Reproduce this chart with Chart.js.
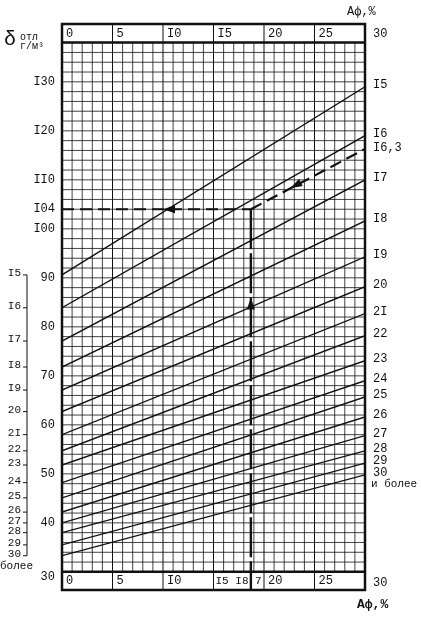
<!DOCTYPE html>
<html><head><meta charset="utf-8">
<script src="https://cdn.jsdelivr.net/npm/chart.js@4/dist/chart.umd.min.js"></script>
<style>body{margin:0;background:#fff}#wrap{width:421px;height:618px}</style>
</head><body><div id="wrap"><canvas id="c"></canvas></div>
<script>
// humidity lines: value of delta at Aф=0 and at Aф=30
const humidity = [15, 16, 17, 18, 19, 20, 21, 22, 23, 24, 25, 26, 27, 28, 29, 30];
const humidityLabels = ["I5", "I6", "I7", "I8", "I9", "20", "2I", "22", "23", "24", "25", "26", "27", "28", "29", "30"];
const deltaAtZero = [90.6, 83.9, 77.1, 71.8, 67.1, 62.7, 58.0, 54.7, 51.8, 48.2, 45.1, 42.2, 40.0, 38.0, 35.5, 33.3];
const deltaAtThirty = [129, 119, 110, 101.6, 94.3, 88.2, 82.7, 78.2, 73.1, 69.0, 65.7, 61.6, 57.8, 54.7, 52.2, 49.8];
const yTicks = [30, 40, 50, 60, 70, 80, 90, 100, 110, 120, 130];
const yTickLabels = ["30", "40", "50", "60", "70", "80", "90", "I00", "II0", "I20", "I30"];
const xTicks = [0, 5, 10, 15, 20, 25];
const xTickLabels = ["0", "5", "I0", "I5", "20", "25"];
const example = { a: 18.7, delta: 104, line163: [18.7, 104, 30, 116.3] };

const ink = "#111";
const font = "'Liberation Mono', 'DejaVu Sans Mono', monospace";

const datasets = humidity.map((h, i) => ({
  label: humidityLabels[i],
  data: [{ x: 0, y: deltaAtZero[i] }, { x: 30, y: deltaAtThirty[i] }],
  showLine: true, borderColor: ink, borderWidth: 1.4, pointRadius: 0,
}));
datasets.push({
  label: "I6,3",
  data: [{ x: example.line163[0], y: example.line163[1] }, { x: example.line163[2], y: example.line163[3] }],
  showLine: true, borderColor: ink, borderWidth: 2.2, borderDash: [12, 6], pointRadius: 0,
});
datasets.push({
  label: "path-h",
  data: [{ x: 0, y: example.delta }, { x: example.a, y: example.delta }],
  showLine: true, borderColor: ink, borderWidth: 2.2, borderDash: [12, 6], pointRadius: 0,
});
datasets.push({
  label: "path-v",
  data: [{ x: example.a, y: example.delta }, { x: example.a, y: 26.3 }],
  showLine: true, borderColor: ink, borderWidth: 2.4, borderDash: [40, 4], pointRadius: 0,
});

function arrow(ctx, x, y, ang) {
  ctx.save();
  ctx.translate(x, y); ctx.rotate(ang);
  ctx.beginPath(); ctx.moveTo(0, 0); ctx.lineTo(-12, -4); ctx.lineTo(-12, 4); ctx.closePath();
  ctx.fillStyle = ink; ctx.fill();
  ctx.restore();
}

const gridPlugin = {
  id: "grid",
  beforeDatasetsDraw(chart) {
    const { ctx, scales: { x, y } } = chart;
    const top = y.getPixelForValue(138), bot = y.getPixelForValue(30);
    ctx.save();
    ctx.strokeStyle = ink;
    ctx.lineWidth = 0.8;
    for (let v = 1; v < 30; v++) {
      if (v % 5 === 0) continue;
      const px = x.getPixelForValue(v);
      ctx.beginPath(); ctx.moveTo(px, top); ctx.lineTo(px, bot); ctx.stroke();
    }
    for (let v = 30; v <= 138; v += 2) {
      const py = y.getPixelForValue(v);
      ctx.beginPath(); ctx.moveTo(x.left, py); ctx.lineTo(x.right, py); ctx.stroke();
    }
    ctx.lineWidth = 1;
    xTicks.forEach((v) => {
      const px = x.getPixelForValue(v);
      ctx.beginPath(); ctx.moveTo(px, y.top); ctx.lineTo(px, y.bottom); ctx.stroke();
    });
    ctx.lineWidth = 2.5;
    [top, bot].forEach((py) => { ctx.beginPath(); ctx.moveTo(x.left, py); ctx.lineTo(x.right, py); ctx.stroke(); });
    ctx.strokeRect(x.left, y.top, x.right - x.left, y.bottom - y.top);
    ctx.restore();
  },
  afterDatasetsDraw(chart) {
    const { ctx, scales: { x, y } } = chart;
    ctx.save();
    ctx.fillStyle = ink;
    ctx.font = "12px " + font;
    ctx.textBaseline = "middle";
    // strip labels
    xTicks.forEach((v, i) => {
      const px = x.getPixelForValue(v) + 4;
      ctx.textAlign = "left";
      ctx.fillText(xTickLabels[i], px, y.top + 10);
      if (v !== 15) ctx.fillText(xTickLabels[i], px, y.bottom - 9);
    });
    ctx.font = "11px " + font;
    ctx.fillText("I5 I8,7", x.getPixelForValue(15) + 2, y.bottom - 9);
    ctx.font = "12px " + font;
    ctx.fillText("30", x.right + 8, y.top + 10);
    ctx.fillText("30", x.right + 8, y.bottom - 7);
    ctx.fillText("Aф,%", x.right - 18, 12);
    ctx.font = "bold 13px " + font;
    ctx.fillText("Aф,%", x.right - 8, 605);
    // left delta scale
    ctx.font = "12px " + font;
    ctx.textAlign = "right";
    yTicks.forEach((v, i) => {
      ctx.fillText(yTickLabels[i], 55, y.getPixelForValue(v) + (v === 30 ? 5 : 0));
    });
    ctx.fillText("I04", 55, y.getPixelForValue(example.delta));
    ctx.textAlign = "left";
    ctx.font = "20px " + font;
    ctx.fillText("δ", 4, 40);
    ctx.font = "10px " + font;
    ctx.fillText("отл", 20, 37);
    ctx.fillText("г/м³", 20, 46);
    // right line labels
    ctx.font = "12px " + font;
    humidity.forEach((h, i) => {
      ctx.fillText(humidityLabels[i], x.right + 8, y.getPixelForValue(deltaAtThirty[i]) - 2);
    });
    ctx.fillText("I6,3", x.right + 8, y.getPixelForValue(116.5));
    ctx.font = "11px " + font;
    ctx.fillText("и более", x.right + 6, y.getPixelForValue(deltaAtThirty[15]) + 9);
    // left humidity bracket
    ctx.strokeStyle = ink; ctx.lineWidth = 1;
    const bx = 27, b0 = y.getPixelForValue(deltaAtZero[0]), b1 = y.getPixelForValue(deltaAtZero[15]);
    ctx.beginPath(); ctx.moveTo(bx, b0); ctx.lineTo(bx, b1); ctx.stroke();
    ctx.textAlign = "right";
    humidity.forEach((h, i) => {
      const py = y.getPixelForValue(deltaAtZero[i]);
      ctx.beginPath(); ctx.moveTo(bx - 4, py); ctx.lineTo(bx, py); ctx.stroke();
      ctx.fillText(humidityLabels[i], bx - 6, py - 2);
    });
    ctx.textAlign = "left";
    ctx.fillText("более", 0, b1 + 10);
    // arrows
    const ax = x.getPixelForValue(example.a);
    arrow(ctx, ax, y.getPixelForValue(86), -Math.PI / 2);
    arrow(ctx, x.getPixelForValue(10), y.getPixelForValue(example.delta), Math.PI);
    const p1 = [x.getPixelForValue(30), y.getPixelForValue(116.3)];
    const p0 = [ax, y.getPixelForValue(example.delta)];
    const ang = Math.atan2(p0[1] - p1[1], p0[0] - p1[0]);
    arrow(ctx, x.getPixelForValue(22.6), y.getPixelForValue(108.3), ang);
    ctx.restore();
  },
};

new Chart(document.getElementById("c"), {
  type: "scatter",
  data: { datasets },
  options: {
    responsive: true, maintainAspectRatio: false, animation: false,
    layout: { padding: { left: 62, right: 56, top: 24, bottom: 28 } },
    plugins: { legend: { display: false }, tooltip: { enabled: false } },
    scales: {
      x: { type: "linear", min: 0, max: 30, display: false },
      y: { type: "linear", min: 26.3, max: 141.8, display: false },
    },
  },
  plugins: [gridPlugin],
});
</script></body></html>
